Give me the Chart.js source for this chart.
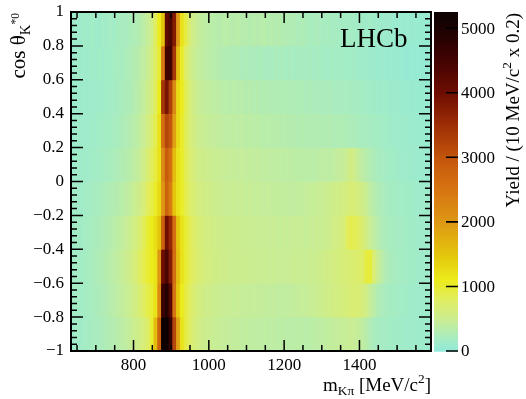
<!DOCTYPE html>
<html><head><meta charset="utf-8">
<script src="https://cdn.jsdelivr.net/npm/chart.js@4.4.1/dist/chart.umd.min.js"></script>
<style>html,body{margin:0;padding:0;background:#fff}canvas{display:block}</style>
</head><body>
<canvas id="c" width="526" height="399"></canvas>
<script>
// ---- axis / category definitions ----
const massStart = 634;          // MeV/c^2, lower edge of first bin
const massBinWidth = 10;        // MeV/c^2
const massAxisMax = 1590;
const cosBinCenters = [-0.9, -0.7, -0.5, -0.3, -0.1, 0.1, 0.3, 0.5, 0.7, 0.9];
const xTickValues = [800, 1000, 1200, 1400];
const yTickValues = [-1, -0.8, -0.6, -0.4, -0.2, 0, 0.2, 0.4, 0.6, 0.8, 1];
const yTickLabels = ['\u22121', '\u22120.8', '\u22120.6', '\u22120.4', '\u22120.2', '0', '0.2', '0.4', '0.6', '0.8', '1'];
const zTickValues = [0, 1000, 2000, 3000, 4000, 5000];
const zMax = 5250;

// ---- yields per cos(theta) row (bins of 10 MeV from 634 MeV) ----
const yield_cos_m09 = [140,160,150,170,180,200,210,230,250,270, 290,310,340,370,400,440,490,540,600,680, 760,1000,1600,2800,5200,5250,4700,3200,1900,1200, 950,800,680,610,560,530,510,490,470,460, 450,440,430,420,430,410,420,400,410,400, 390,400,380,390,380,370,380,360,370,360, 370,360,350,360,370,380,390,400,420,430, 440,450,460,470,480,470,440,400,340,280, 230,200,190,180,170,160,150,150,140,140, 130,130,120,120,110,110];
const yield_cos_m07 = [150,170,160,180,190,210,230,250,270,300, 330,360,390,420,460,500,560,620,690,800, 900,1000,1200,2200,4600,4900,4300,2500,1500,1100, 950,820,710,640,600,570,550,530,510,500, 490,480,470,460,470,450,460,440,450,440, 430,440,420,430,420,410,420,410,420,430, 440,450,460,470,480,500,520,540,560,580, 600,620,640,660,680,700,680,640,560,460, 370,300,250,220,200,190,180,170,160,150, 140,140,130,130,120,120];
const yield_cos_m05 = [150,170,160,190,200,220,240,270,290,320, 350,380,410,450,500,550,610,700,800,900, 1000,1100,1200,2000,4000,4400,3800,2600,1600,1200, 1000,880,780,720,670,640,610,590,570,560, 550,540,530,520,530,510,520,500,510,500, 490,500,480,490,480,470,480,470,490,500, 490,500,480,510,500,520,540,560,580,600, 620,640,660,680,700,720,740,780,950,980, 700,500,380,300,250,220,200,190,180,170, 150,150,140,140,130,130];
const yield_cos_m03 = [140,160,150,180,190,210,230,250,270,300, 320,350,380,410,450,500,560,640,720,850, 1000,1100,1250,1500,2800,4000,3600,2600,1500,1200, 1000,880,780,710,660,630,600,580,560,550, 540,530,520,510,520,500,510,490,500,490, 480,490,470,480,470,460,470,460,470,480, 470,480,460,490,470,500,480,510,530,560, 590,620,650,820,880,860,800,700,580,480, 400,330,280,240,220,200,190,180,170,160, 150,150,140,140,130,130];
const yield_cos_m01 = [130,150,140,160,170,190,200,220,240,260, 280,300,320,350,380,420,460,520,580,680, 820,920,1050,1300,2000,2800,2400,1500,1200,1050, 900,780,700,640,600,580,560,540,520,510, 500,490,480,490,470,480,460,470,450,460, 450,440,450,430,440,420,430,410,420,420, 420,430,440,450,460,470,480,500,520,540, 560,580,600,640,680,660,620,560,480,400, 330,280,250,220,200,190,180,170,160,150, 150,140,130,140,120,130];
const yield_cos_p01 = [120,140,130,150,140,170,160,180,190,210, 220,240,260,280,310,340,380,420,480,580, 700,820,950,1200,2200,2900,2600,1600,1200,1050, 880,740,650,590,560,540,520,500,490,480, 470,460,450,460,440,450,430,440,420,430, 410,420,400,410,390,400,380,390,380,370, 380,370,360,370,360,380,390,400,380,400, 420,440,460,520,600,520,440,380,330,290, 250,220,200,180,170,160,150,140,130,120, 120,110,100,110,90,100];
const yield_cos_p03 = [110,130,120,140,130,150,140,160,170,180, 190,200,220,250,270,300,330,370,420,500, 600,720,880,1200,2600,3200,3000,1900,1300,1050, 850,700,600,540,500,480,460,440,430,420, 410,400,390,400,380,390,370,380,360,370, 350,340,350,330,340,320,330,310,320,310, 300,310,290,300,290,300,280,290,300,280, 270,280,270,260,250,240,230,220,210,200, 190,180,170,160,150,140,130,120,120,110, 100,110,90,100,80,90];
const yield_cos_p05 = [100,120,110,130,120,140,130,150,140,160, 170,180,200,220,240,260,300,330,380,450, 540,640,800,1100,3400,3900,3300,2200,1300,1100, 880,700,580,500,460,440,420,400,390,380, 360,350,340,360,330,340,320,330,310,320, 300,310,290,300,280,290,270,280,260,270, 260,270,250,260,240,250,240,230,250,230, 220,230,210,220,200,190,200,180,170,160, 150,140,130,140,120,110,120,100,90,100, 80,90,70,80,60,70];
const yield_cos_p07 = [110,130,120,140,120,150,130,160,140,170, 160,190,210,200,240,260,290,320,360,420, 500,620,780,1000,2400,4500,4600,3400,1600,1050, 780,620,520,460,420,390,370,350,330,310, 290,270,280,260,270,250,260,240,250,230, 240,220,230,210,240,220,210,200,220,190, 210,200,190,210,180,200,190,180,170,190, 170,180,160,170,150,160,140,130,140,120, 110,100,110,90,80,90,70,80,60,50, 60,50,60,40,50,40];
const yield_cos_p09 = [120,140,110,150,130,160,140,120,170,150, 180,160,200,220,210,240,260,280,320,380, 460,560,800,1100,1500,4200,4400,3800,2000,1200, 950,700,560,480,430,400,380,360,340,320, 350,370,330,340,360,320,330,310,340,320, 330,350,310,330,300,320,290,300,270,280, 250,270,240,220,230,250,210,200,220,190, 200,180,190,170,180,160,170,150,140,160, 130,140,120,110,120,100,90,100,80,90, 80,90,70,80,60,70];

const yieldRows = [yield_cos_m09, yield_cos_m07, yield_cos_m05, yield_cos_m03, yield_cos_m01,
                   yield_cos_p01, yield_cos_p03, yield_cos_p05, yield_cos_p07, yield_cos_p09];

// ---- colour palette (fraction of zMax -> rgb) ----
const paletteStops = [
  [0.00, 144, 234, 218], [0.04, 168, 236, 192], [0.09, 200, 237, 150], [0.15, 224, 237, 100],
  [0.21, 236, 236, 28], [0.28, 228, 200, 12], [0.38, 222, 152, 20], [0.48, 214, 116, 18],
  [0.57, 196, 86, 12], [0.67, 156, 46, 6], [0.76, 112, 14, 0], [0.86, 66, 4, 0],
  [0.95, 30, 0, 0], [1.00, 12, 0, 0]
];
function colorFor(v) {
  const t = Math.max(0, Math.min(1, v / zMax));
  for (let k = 1; k < paletteStops.length; k++) {
    const a = paletteStops[k - 1], b = paletteStops[k];
    if (t <= b[0]) {
      const f = (t - a[0]) / (b[0] - a[0]);
      const c = [1, 2, 3].map(j => Math.round(a[j] + (b[j] - a[j]) * f));
      return `rgb(${c[0]},${c[1]},${c[2]})`;
    }
  }
  const l = paletteStops[paletteStops.length - 1];
  return `rgb(${l[1]},${l[2]},${l[3]})`;
}

// ---- build cells ----
const cells = [];
yieldRows.forEach((row, r) => {
  row.forEach((v, i) => {
    const lo = massStart + i * massBinWidth;
    cells.push({ x: [lo, lo + massBinWidth], y: cosBinCenters[r], v: v });
  });
});

const FONT = 'Liberation Serif';

function drawParts(ctx, parts, size, xEnd, y) {
  let w = 0;
  parts.forEach(p => { ctx.font = `${size * p.s}px "${FONT}"`; p.w = ctx.measureText(p.t).width; w += p.w; });
  let cx = xEnd - w;
  parts.forEach(p => { ctx.font = `${size * p.s}px "${FONT}"`; ctx.fillText(p.t, cx, y + p.dy); cx += p.w; });
}

const deco = {
  id: 'deco',
  afterDraw(chart) {
    const { ctx, chartArea: a, scales } = chart;
    const x = scales.x, y = scales.y;
    // colour-bar value -> pixel, through the y scale (same vertical extent)
    const zPix = (v) => y.getPixelForValue(y.min + (y.max - y.min) * v / zMax);
    ctx.save();
    // colour bar
    const cbL = a.right + 3, cbR = a.right + 27;
    for (let v = 0; v < zMax; v += 5) {
      const p0 = zPix(v), p1 = zPix(Math.min(zMax, v + 5));
      ctx.fillStyle = colorFor(v + 2.5);
      ctx.fillRect(cbL, p1, cbR - cbL, p0 - p1 + 0.6);
    }
    ctx.strokeStyle = '#000';
    ctx.lineWidth = 1.6;
    ctx.beginPath();
    zTickValues.forEach(v => {
      const p = zPix(v);
      ctx.moveTo(cbR - 12, p); ctx.lineTo(cbR, p);
    });
    ctx.stroke();
    ctx.fillStyle = '#000';
    ctx.font = `17px "${FONT}"`;
    ctx.textAlign = 'left'; ctx.textBaseline = 'middle';
    zTickValues.forEach(v => ctx.fillText(String(v), cbR + 3, zPix(v) + 1));

    // frame
    ctx.lineWidth = 2;
    ctx.strokeRect(a.left, a.top, a.right - a.left, a.bottom - a.top);
    // x ticks
    ctx.lineWidth = 1.5;
    ctx.beginPath();
    for (let m = 650; m <= massAxisMax; m += 50) {
      const px = x.getPixelForValue(m);
      const len = (m % 200 === 0) ? 11 : 6;
      ctx.moveTo(px, a.bottom); ctx.lineTo(px, a.bottom - len);
      ctx.moveTo(px, a.top); ctx.lineTo(px, a.top + len);
    }
    // y ticks
    for (let k = 0; k <= 50; k++) {
      const c = -1 + k * 0.04;
      const py = y.getPixelForValue(c);
      const len = (k % 5 === 0) ? 12 : 6;
      ctx.moveTo(a.left, py); ctx.lineTo(a.left + len, py);
      ctx.moveTo(a.right, py); ctx.lineTo(a.right - len, py);
    }
    ctx.stroke();

    // LHCb label
    ctx.font = `27px "${FONT}"`;
    ctx.textAlign = 'left'; ctx.textBaseline = 'alphabetic';
    ctx.fillText('LHCb', 340, 47);

    // x title: m_{Kπ} [MeV/c^2]
    drawParts(ctx, [
      { t: 'm', s: 1, dy: 0 }, { t: 'K\u03C0', s: 0.7, dy: 4 },
      { t: ' [MeV/c', s: 1, dy: 0 }, { t: '2', s: 0.7, dy: -8 }, { t: ']', s: 1, dy: 0 }
    ], 19, a.right, 391);

    // y title: cos θ_{K^{*0}}
    ctx.save();
    ctx.translate(25, 13);
    ctx.rotate(-Math.PI / 2);
    drawParts(ctx, [
      { t: 'cos \u03B8', s: 1, dy: 0 }, { t: 'K', s: 0.7, dy: 5 }, { t: '*0', s: 0.55, dy: -6 }
    ], 21, 0, 0);
    ctx.restore();

    // z title
    ctx.save();
    ctx.translate(519, 13);
    ctx.rotate(-Math.PI / 2);
    drawParts(ctx, [
      { t: 'Yield / (10 MeV/c', s: 1, dy: 0 }, { t: '2', s: 0.7, dy: -8 }, { t: ' x 0.2)', s: 1, dy: 0 }
    ], 19, 0, 0);
    ctx.restore();

    ctx.restore();
  }
};

new Chart(document.getElementById('c'), {
  type: 'bar',
  data: {
    datasets: [{
      data: cells,
      backgroundColor: (c) => c.raw ? colorFor(c.raw.v) : '#fff',
      borderWidth: 0,
      barPercentage: 1,
      categoryPercentage: 1,
      grouped: false
    }]
  },
  options: {
    indexAxis: 'y',
    responsive: false,
    animation: false,
    events: [],
    layout: { padding: { left: 0, right: 95, top: 12, bottom: 0 } },
    plugins: { legend: { display: false }, tooltip: { enabled: false } },
    scales: {
      x: {
        type: 'linear', position: 'bottom', min: massStart, max: massAxisMax, offset: false,
        grid: { display: false, drawTicks: false }, border: { display: false },
        afterBuildTicks: (s) => { s.ticks = xTickValues.map(v => ({ value: v })); },
        afterFit: (s) => { s.height = 48; s.paddingLeft = 0; s.paddingRight = 0; },
        ticks: { font: { family: FONT, size: 17 }, color: '#000', padding: 4, maxRotation: 0, autoSkip: false,
                 callback: (v) => String(v) }
      },
      y: {
        type: 'linear', position: 'left', min: -1, max: 1, offset: false,
        grid: { display: false, drawTicks: false }, border: { display: false },
        afterBuildTicks: (s) => { s.ticks = yTickValues.map(v => ({ value: v })); },
        afterFit: (s) => { s.width = 71; s.paddingTop = 0; s.paddingBottom = 0; },
        ticks: { font: { family: FONT, size: 17 }, color: '#000', padding: 7, autoSkip: false,
                 callback: (v, i) => yTickLabels[i] }
      }
    }
  },
  plugins: [deco]
});
</script>
</body></html>
